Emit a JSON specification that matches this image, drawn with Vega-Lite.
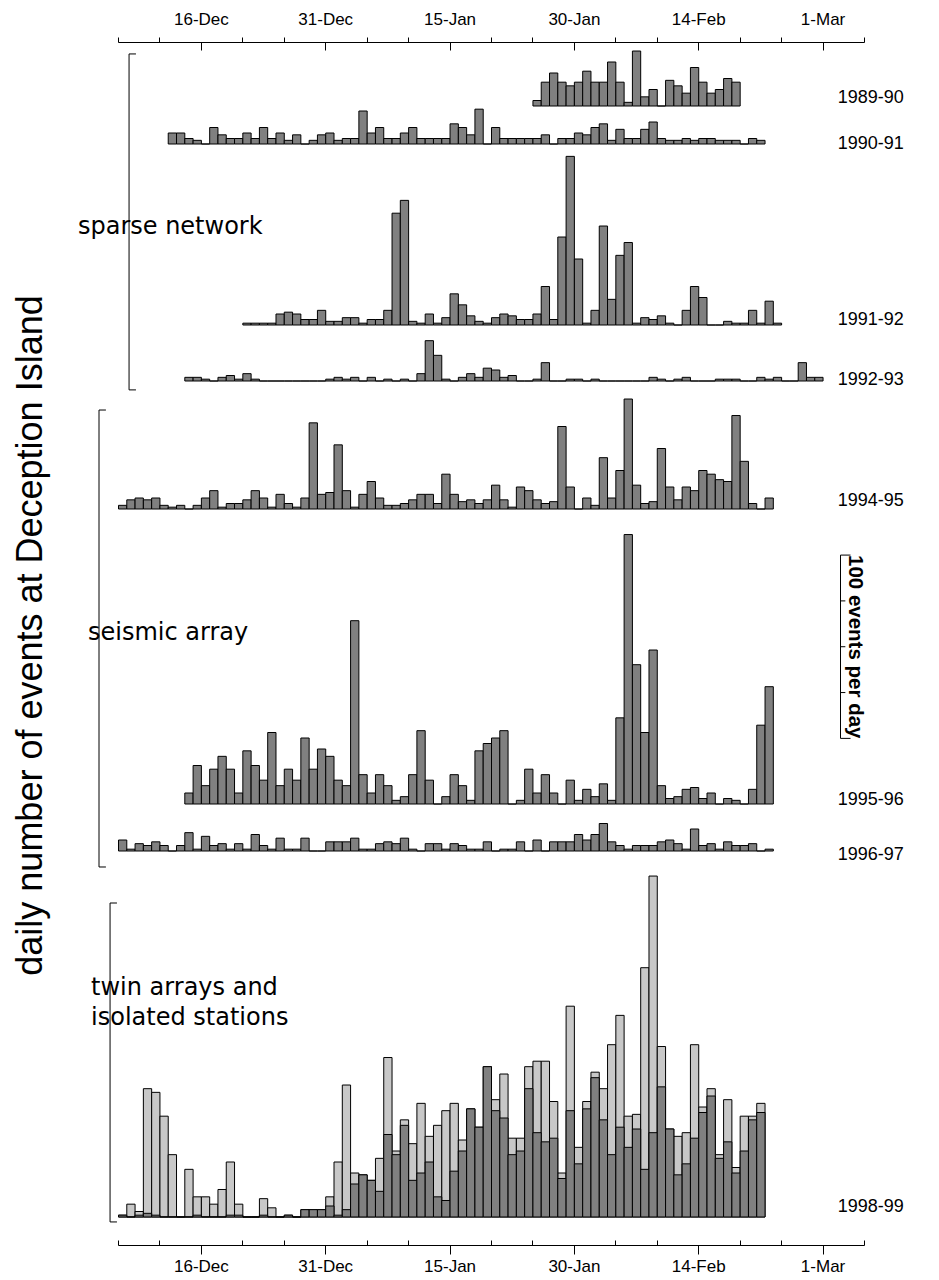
{
  "$schema": "https://vega.github.io/schema/vega-lite/v6.json",
  "padding": {"left": 12, "top": -3, "right": 5, "bottom": 5},
  "title": {"text": "daily number of events at Deception Island", "orient": "left", "anchor": "middle", "font": "Liberation Sans", "fontSize": 36, "fontWeight": "normal", "color": "black", "offset": 28},
  "config": {"view": {"stroke": null}, "font": "Liberation Sans", "bar": {"binSpacing": 0, "xOffset": 3.5, "stroke": "black", "strokeWidth": 1}},
  "datasets": {
    "s8990": [
      {"date":"2001-01-25","n":3},{"date":"2001-01-26","n":13},{"date":"2001-01-27","n":18},{"date":"2001-01-28","n":13},{"date":"2001-01-29","n":11},{"date":"2001-01-30","n":13},{"date":"2001-01-31","n":19},
      {"date":"2001-02-01","n":13},{"date":"2001-02-02","n":13},{"date":"2001-02-03","n":24},{"date":"2001-02-04","n":13},{"date":"2001-02-05","n":2},{"date":"2001-02-06","n":30},{"date":"2001-02-07","n":5},{"date":"2001-02-08","n":9},{"date":"2001-02-09","n":0},{"date":"2001-02-10","n":14},{"date":"2001-02-11","n":11},{"date":"2001-02-12","n":7},{"date":"2001-02-13","n":21},{"date":"2001-02-14","n":13},{"date":"2001-02-15","n":7},{"date":"2001-02-16","n":9},{"date":"2001-02-17","n":15},{"date":"2001-02-18","n":13}
    ],
    "s9091": [
      {"date":"2000-12-12","n":6},{"date":"2000-12-13","n":6},{"date":"2000-12-14","n":3},{"date":"2000-12-15","n":2},{"date":"2000-12-16","n":0},{"date":"2000-12-17","n":9},{"date":"2000-12-18","n":5},{"date":"2000-12-19","n":3},{"date":"2000-12-20","n":3},{"date":"2000-12-21","n":6},{"date":"2000-12-22","n":3},{"date":"2000-12-23","n":9},{"date":"2000-12-24","n":3},{"date":"2000-12-25","n":6},{"date":"2000-12-26","n":2},{"date":"2000-12-27","n":5},{"date":"2000-12-28","n":0},{"date":"2000-12-29","n":2},{"date":"2000-12-30","n":5},{"date":"2000-12-31","n":6},
      {"date":"2001-01-01","n":2},{"date":"2001-01-02","n":3},{"date":"2001-01-03","n":3},{"date":"2001-01-04","n":18},{"date":"2001-01-05","n":6},{"date":"2001-01-06","n":9},{"date":"2001-01-07","n":3},{"date":"2001-01-08","n":3},{"date":"2001-01-09","n":6},{"date":"2001-01-10","n":9},{"date":"2001-01-11","n":3},{"date":"2001-01-12","n":3},{"date":"2001-01-13","n":3},{"date":"2001-01-14","n":3},{"date":"2001-01-15","n":11},{"date":"2001-01-16","n":9},{"date":"2001-01-17","n":5},{"date":"2001-01-18","n":19},{"date":"2001-01-19","n":0},{"date":"2001-01-20","n":9},{"date":"2001-01-21","n":3},{"date":"2001-01-22","n":3},{"date":"2001-01-23","n":3},{"date":"2001-01-24","n":3},{"date":"2001-01-25","n":3},{"date":"2001-01-26","n":5},{"date":"2001-01-27","n":0},{"date":"2001-01-28","n":3},{"date":"2001-01-29","n":3},{"date":"2001-01-30","n":6},{"date":"2001-01-31","n":5},
      {"date":"2001-02-01","n":9},{"date":"2001-02-02","n":11},{"date":"2001-02-03","n":2},{"date":"2001-02-04","n":8},{"date":"2001-02-05","n":3},{"date":"2001-02-06","n":3},{"date":"2001-02-07","n":8},{"date":"2001-02-08","n":12},{"date":"2001-02-09","n":3},{"date":"2001-02-10","n":2},{"date":"2001-02-11","n":2},{"date":"2001-02-12","n":3},{"date":"2001-02-13","n":2},{"date":"2001-02-14","n":3},{"date":"2001-02-15","n":3},{"date":"2001-02-16","n":2},{"date":"2001-02-17","n":2},{"date":"2001-02-18","n":2},{"date":"2001-02-19","n":0},{"date":"2001-02-20","n":3},{"date":"2001-02-21","n":2}
    ],
    "s9192": [
      {"date":"2000-12-21","n":1},{"date":"2000-12-22","n":1},{"date":"2000-12-23","n":1},{"date":"2000-12-24","n":1},{"date":"2000-12-25","n":6},{"date":"2000-12-26","n":7},{"date":"2000-12-27","n":6},{"date":"2000-12-28","n":3},{"date":"2000-12-29","n":3},{"date":"2000-12-30","n":8},{"date":"2000-12-31","n":2},
      {"date":"2001-01-01","n":2},{"date":"2001-01-02","n":4},{"date":"2001-01-03","n":4},{"date":"2001-01-04","n":1},{"date":"2001-01-05","n":3},{"date":"2001-01-06","n":3},{"date":"2001-01-07","n":8},{"date":"2001-01-08","n":61},{"date":"2001-01-09","n":68},{"date":"2001-01-10","n":2},{"date":"2001-01-11","n":1},{"date":"2001-01-12","n":6},{"date":"2001-01-13","n":1},{"date":"2001-01-14","n":4},{"date":"2001-01-15","n":17},{"date":"2001-01-16","n":11},{"date":"2001-01-17","n":5},{"date":"2001-01-18","n":2},{"date":"2001-01-19","n":1},{"date":"2001-01-20","n":4},{"date":"2001-01-21","n":6},{"date":"2001-01-22","n":5},{"date":"2001-01-23","n":3},{"date":"2001-01-24","n":3},{"date":"2001-01-25","n":6},{"date":"2001-01-26","n":21},{"date":"2001-01-27","n":3},{"date":"2001-01-28","n":48},{"date":"2001-01-29","n":92},{"date":"2001-01-30","n":36},{"date":"2001-01-31","n":1},
      {"date":"2001-02-01","n":8},{"date":"2001-02-02","n":54},{"date":"2001-02-03","n":14},{"date":"2001-02-04","n":38},{"date":"2001-02-05","n":45},{"date":"2001-02-06","n":1},{"date":"2001-02-07","n":4},{"date":"2001-02-08","n":3},{"date":"2001-02-09","n":5},{"date":"2001-02-10","n":1},{"date":"2001-02-11","n":0},{"date":"2001-02-12","n":8},{"date":"2001-02-13","n":21},{"date":"2001-02-14","n":15},{"date":"2001-02-15","n":0},{"date":"2001-02-16","n":0},{"date":"2001-02-17","n":2},{"date":"2001-02-18","n":1},{"date":"2001-02-19","n":1},{"date":"2001-02-20","n":8},{"date":"2001-02-21","n":1},{"date":"2001-02-22","n":13},{"date":"2001-02-23","n":1}
    ],
    "s9293": [
      {"date":"2000-12-14","n":2},{"date":"2000-12-15","n":2},{"date":"2000-12-16","n":1},{"date":"2000-12-17","n":0},{"date":"2000-12-18","n":2},{"date":"2000-12-19","n":3},{"date":"2000-12-20","n":1},{"date":"2000-12-21","n":4},{"date":"2000-12-22","n":1},{"date":"2000-12-23","n":0},{"date":"2000-12-24","n":0},{"date":"2000-12-25","n":0},{"date":"2000-12-26","n":0},{"date":"2000-12-27","n":0},{"date":"2000-12-28","n":0},{"date":"2000-12-29","n":0},{"date":"2000-12-30","n":0},{"date":"2000-12-31","n":1},
      {"date":"2001-01-01","n":2},{"date":"2001-01-02","n":1},{"date":"2001-01-03","n":2},{"date":"2001-01-04","n":0},{"date":"2001-01-05","n":2},{"date":"2001-01-06","n":0},{"date":"2001-01-07","n":1},{"date":"2001-01-08","n":0},{"date":"2001-01-09","n":1},{"date":"2001-01-10","n":0},{"date":"2001-01-11","n":4},{"date":"2001-01-12","n":22},{"date":"2001-01-13","n":14},{"date":"2001-01-14","n":1},{"date":"2001-01-15","n":0},{"date":"2001-01-16","n":2},{"date":"2001-01-17","n":4},{"date":"2001-01-18","n":2},{"date":"2001-01-19","n":7},{"date":"2001-01-20","n":6},{"date":"2001-01-21","n":2},{"date":"2001-01-22","n":3},{"date":"2001-01-23","n":0},{"date":"2001-01-24","n":0},{"date":"2001-01-25","n":1},{"date":"2001-01-26","n":10},{"date":"2001-01-27","n":0},{"date":"2001-01-28","n":0},{"date":"2001-01-29","n":1},{"date":"2001-01-30","n":1},{"date":"2001-01-31","n":0},
      {"date":"2001-02-01","n":1},{"date":"2001-02-02","n":0},{"date":"2001-02-03","n":0},{"date":"2001-02-04","n":0},{"date":"2001-02-05","n":0},{"date":"2001-02-06","n":0},{"date":"2001-02-07","n":0},{"date":"2001-02-08","n":2},{"date":"2001-02-09","n":1},{"date":"2001-02-10","n":0},{"date":"2001-02-11","n":1},{"date":"2001-02-12","n":2},{"date":"2001-02-13","n":0},{"date":"2001-02-14","n":0},{"date":"2001-02-15","n":0},{"date":"2001-02-16","n":1},{"date":"2001-02-17","n":1},{"date":"2001-02-18","n":1},{"date":"2001-02-19","n":0},{"date":"2001-02-20","n":0},{"date":"2001-02-21","n":2},{"date":"2001-02-22","n":1},{"date":"2001-02-23","n":2},{"date":"2001-02-24","n":0},{"date":"2001-02-25","n":0},{"date":"2001-02-26","n":10},{"date":"2001-02-27","n":2},{"date":"2001-02-28","n":2}
    ],
    "s9495": [
      {"date":"2000-12-06","n":2},{"date":"2000-12-07","n":5},{"date":"2000-12-08","n":6},{"date":"2000-12-09","n":5},{"date":"2000-12-10","n":6},{"date":"2000-12-11","n":2},{"date":"2000-12-12","n":1},{"date":"2000-12-13","n":2},{"date":"2000-12-14","n":0},{"date":"2000-12-15","n":2},{"date":"2000-12-16","n":6},{"date":"2000-12-17","n":10},{"date":"2000-12-18","n":1},{"date":"2000-12-19","n":3},{"date":"2000-12-20","n":3},{"date":"2000-12-21","n":5},{"date":"2000-12-22","n":10},{"date":"2000-12-23","n":6},{"date":"2000-12-24","n":1},{"date":"2000-12-25","n":8},{"date":"2000-12-26","n":3},{"date":"2000-12-27","n":1},{"date":"2000-12-28","n":6},{"date":"2000-12-29","n":47},{"date":"2000-12-30","n":8},{"date":"2000-12-31","n":9},
      {"date":"2001-01-01","n":35},{"date":"2001-01-02","n":10},{"date":"2001-01-03","n":1},{"date":"2001-01-04","n":8},{"date":"2001-01-05","n":15},{"date":"2001-01-06","n":6},{"date":"2001-01-07","n":2},{"date":"2001-01-08","n":2},{"date":"2001-01-09","n":3},{"date":"2001-01-10","n":5},{"date":"2001-01-11","n":8},{"date":"2001-01-12","n":8},{"date":"2001-01-13","n":3},{"date":"2001-01-14","n":19},{"date":"2001-01-15","n":8},{"date":"2001-01-16","n":4},{"date":"2001-01-17","n":5},{"date":"2001-01-18","n":3},{"date":"2001-01-19","n":5},{"date":"2001-01-20","n":13},{"date":"2001-01-21","n":5},{"date":"2001-01-22","n":1},{"date":"2001-01-23","n":12},{"date":"2001-01-24","n":10},{"date":"2001-01-25","n":5},{"date":"2001-01-26","n":3},{"date":"2001-01-27","n":4},{"date":"2001-01-28","n":45},{"date":"2001-01-29","n":12},{"date":"2001-01-30","n":0},{"date":"2001-01-31","n":6},
      {"date":"2001-02-01","n":2},{"date":"2001-02-02","n":28},{"date":"2001-02-03","n":6},{"date":"2001-02-04","n":21},{"date":"2001-02-05","n":60},{"date":"2001-02-06","n":13},{"date":"2001-02-07","n":3},{"date":"2001-02-08","n":4},{"date":"2001-02-09","n":33},{"date":"2001-02-10","n":12},{"date":"2001-02-11","n":5},{"date":"2001-02-12","n":12},{"date":"2001-02-13","n":10},{"date":"2001-02-14","n":21},{"date":"2001-02-15","n":19},{"date":"2001-02-16","n":16},{"date":"2001-02-17","n":15},{"date":"2001-02-18","n":51},{"date":"2001-02-19","n":26},{"date":"2001-02-20","n":3},{"date":"2001-02-21","n":0},{"date":"2001-02-22","n":6}
    ],
    "s9596": [
      {"date":"2000-12-14","n":6},{"date":"2000-12-15","n":21},{"date":"2000-12-16","n":10},{"date":"2000-12-17","n":19},{"date":"2000-12-18","n":26},{"date":"2000-12-19","n":19},{"date":"2000-12-20","n":6},{"date":"2000-12-21","n":29},{"date":"2000-12-22","n":21},{"date":"2000-12-23","n":13},{"date":"2000-12-24","n":39},{"date":"2000-12-25","n":10},{"date":"2000-12-26","n":19},{"date":"2000-12-27","n":13},{"date":"2000-12-28","n":36},{"date":"2000-12-29","n":19},{"date":"2000-12-30","n":30},{"date":"2000-12-31","n":26},
      {"date":"2001-01-01","n":13},{"date":"2001-01-02","n":10},{"date":"2001-01-03","n":100},{"date":"2001-01-04","n":16},{"date":"2001-01-05","n":6},{"date":"2001-01-06","n":16},{"date":"2001-01-07","n":10},{"date":"2001-01-08","n":2},{"date":"2001-01-09","n":4},{"date":"2001-01-10","n":16},{"date":"2001-01-11","n":40},{"date":"2001-01-12","n":13},{"date":"2001-01-13","n":0},{"date":"2001-01-14","n":4},{"date":"2001-01-15","n":16},{"date":"2001-01-16","n":10},{"date":"2001-01-17","n":2},{"date":"2001-01-18","n":29},{"date":"2001-01-19","n":33},{"date":"2001-01-20","n":36},{"date":"2001-01-21","n":40},{"date":"2001-01-22","n":0},{"date":"2001-01-23","n":2},{"date":"2001-01-24","n":19},{"date":"2001-01-25","n":6},{"date":"2001-01-26","n":16},{"date":"2001-01-27","n":6},{"date":"2001-01-28","n":0},{"date":"2001-01-29","n":13},{"date":"2001-01-30","n":2},{"date":"2001-01-31","n":8},
      {"date":"2001-02-01","n":4},{"date":"2001-02-02","n":11},{"date":"2001-02-03","n":2},{"date":"2001-02-04","n":47},{"date":"2001-02-05","n":147},{"date":"2001-02-06","n":76},{"date":"2001-02-07","n":39},{"date":"2001-02-08","n":84},{"date":"2001-02-09","n":10},{"date":"2001-02-10","n":3},{"date":"2001-02-11","n":4},{"date":"2001-02-12","n":8},{"date":"2001-02-13","n":9},{"date":"2001-02-14","n":3},{"date":"2001-02-15","n":6},{"date":"2001-02-16","n":0},{"date":"2001-02-17","n":3},{"date":"2001-02-18","n":2},{"date":"2001-02-19","n":0},{"date":"2001-02-20","n":8},{"date":"2001-02-21","n":43},{"date":"2001-02-22","n":64}
    ],
    "s9697": [
      {"date":"2000-12-06","n":6},{"date":"2000-12-07","n":1},{"date":"2000-12-08","n":4},{"date":"2000-12-09","n":3},{"date":"2000-12-10","n":5},{"date":"2000-12-11","n":3},{"date":"2000-12-12","n":0},{"date":"2000-12-13","n":3},{"date":"2000-12-14","n":10},{"date":"2000-12-15","n":1},{"date":"2000-12-16","n":8},{"date":"2000-12-17","n":3},{"date":"2000-12-18","n":4},{"date":"2000-12-19","n":1},{"date":"2000-12-20","n":4},{"date":"2000-12-21","n":1},{"date":"2000-12-22","n":9},{"date":"2000-12-23","n":3},{"date":"2000-12-24","n":1},{"date":"2000-12-25","n":7},{"date":"2000-12-26","n":1},{"date":"2000-12-27","n":1},{"date":"2000-12-28","n":7},{"date":"2000-12-29","n":0},{"date":"2000-12-30","n":0},{"date":"2000-12-31","n":5},
      {"date":"2001-01-01","n":5},{"date":"2001-01-02","n":5},{"date":"2001-01-03","n":7},{"date":"2001-01-04","n":1},{"date":"2001-01-05","n":1},{"date":"2001-01-06","n":4},{"date":"2001-01-07","n":5},{"date":"2001-01-08","n":4},{"date":"2001-01-09","n":7},{"date":"2001-01-10","n":1},{"date":"2001-01-11","n":0},{"date":"2001-01-12","n":4},{"date":"2001-01-13","n":4},{"date":"2001-01-14","n":1},{"date":"2001-01-15","n":4},{"date":"2001-01-16","n":3},{"date":"2001-01-17","n":1},{"date":"2001-01-18","n":1},{"date":"2001-01-19","n":5},{"date":"2001-01-20","n":0},{"date":"2001-01-21","n":1},{"date":"2001-01-22","n":1},{"date":"2001-01-23","n":5},{"date":"2001-01-24","n":0},{"date":"2001-01-25","n":6},{"date":"2001-01-26","n":0},{"date":"2001-01-27","n":5},{"date":"2001-01-28","n":5},{"date":"2001-01-29","n":5},{"date":"2001-01-30","n":9},{"date":"2001-01-31","n":6},
      {"date":"2001-02-01","n":9},{"date":"2001-02-02","n":15},{"date":"2001-02-03","n":5},{"date":"2001-02-04","n":3},{"date":"2001-02-05","n":1},{"date":"2001-02-06","n":3},{"date":"2001-02-07","n":3},{"date":"2001-02-08","n":3},{"date":"2001-02-09","n":5},{"date":"2001-02-10","n":6},{"date":"2001-02-11","n":4},{"date":"2001-02-12","n":1},{"date":"2001-02-13","n":12},{"date":"2001-02-14","n":3},{"date":"2001-02-15","n":4},{"date":"2001-02-16","n":1},{"date":"2001-02-17","n":5},{"date":"2001-02-18","n":3},{"date":"2001-02-19","n":3},{"date":"2001-02-20","n":4},{"date":"2001-02-21","n":0},{"date":"2001-02-22","n":1}
    ],
    "s9899": [
      {"date":"2000-12-06","all":1,"array":1},{"date":"2000-12-07","all":7,"array":0},{"date":"2000-12-08","all":3,"array":1},{"date":"2000-12-09","all":70,"array":2},{"date":"2000-12-10","all":68,"array":1},{"date":"2000-12-11","all":55,"array":0},{"date":"2000-12-12","all":34,"array":0},{"date":"2000-12-13","all":0,"array":0},{"date":"2000-12-14","all":26,"array":0},{"date":"2000-12-15","all":11,"array":1},{"date":"2000-12-16","all":11,"array":0},{"date":"2000-12-17","all":7,"array":0},{"date":"2000-12-18","all":15,"array":0},{"date":"2000-12-19","all":30,"array":1},{"date":"2000-12-20","all":7,"array":1},{"date":"2000-12-21","all":0,"array":0},{"date":"2000-12-22","all":0,"array":0},{"date":"2000-12-23","all":10,"array":1},{"date":"2000-12-24","all":5,"array":0},{"date":"2000-12-25","all":0,"array":0},{"date":"2000-12-26","all":1,"array":1},{"date":"2000-12-27","all":0,"array":0},{"date":"2000-12-28","all":4,"array":4},{"date":"2000-12-29","all":4,"array":4},{"date":"2000-12-30","all":4,"array":4},{"date":"2000-12-31","all":11,"array":6},
      {"date":"2001-01-01","all":30,"array":1},{"date":"2001-01-02","all":72,"array":4},{"date":"2001-01-03","all":24,"array":18},{"date":"2001-01-04","all":23,"array":23},{"date":"2001-01-05","all":20,"array":20},{"date":"2001-01-06","all":32,"array":14},{"date":"2001-01-07","all":87,"array":45},{"date":"2001-01-08","all":36,"array":34},{"date":"2001-01-09","all":53,"array":50},{"date":"2001-01-10","all":40,"array":20},{"date":"2001-01-11","all":62,"array":24},{"date":"2001-01-12","all":44,"array":30},{"date":"2001-01-13","all":50,"array":11},{"date":"2001-01-14","all":58,"array":9},{"date":"2001-01-15","all":62,"array":25},{"date":"2001-01-16","all":42,"array":36},{"date":"2001-01-17","all":59,"array":59},{"date":"2001-01-18","all":49,"array":49},{"date":"2001-01-19","all":82,"array":82},{"date":"2001-01-20","all":64,"array":58},{"date":"2001-01-21","all":78,"array":54},{"date":"2001-01-22","all":43,"array":34},{"date":"2001-01-23","all":43,"array":36},{"date":"2001-01-24","all":82,"array":70},{"date":"2001-01-25","all":85,"array":46},{"date":"2001-01-26","all":85,"array":41},{"date":"2001-01-27","all":63,"array":43},{"date":"2001-01-28","all":24,"array":21},{"date":"2001-01-29","all":115,"array":58},{"date":"2001-01-30","all":38,"array":29},{"date":"2001-01-31","all":63,"array":59},
      {"date":"2001-02-01","all":79,"array":76},{"date":"2001-02-02","all":70,"array":53},{"date":"2001-02-03","all":94,"array":34},{"date":"2001-02-04","all":110,"array":49},{"date":"2001-02-05","all":55,"array":38},{"date":"2001-02-06","all":56,"array":48},{"date":"2001-02-07","all":136,"array":26},{"date":"2001-02-08","all":186,"array":46},{"date":"2001-02-09","all":93,"array":71},{"date":"2001-02-10","all":48,"array":48},{"date":"2001-02-11","all":44,"array":23},{"date":"2001-02-12","all":46,"array":29},{"date":"2001-02-13","all":94,"array":43},{"date":"2001-02-14","all":60,"array":57},{"date":"2001-02-15","all":70,"array":66},{"date":"2001-02-16","all":34,"array":32},{"date":"2001-02-17","all":64,"array":41},{"date":"2001-02-18","all":27,"array":24},{"date":"2001-02-19","all":55,"array":36},{"date":"2001-02-20","all":55,"array":53},{"date":"2001-02-21","all":62,"array":57}
    ]
  },
  "vconcat": [
    {
      "width": 746, "height": 64,
      "layer": [
        {
          "data": {"name": "s8990"},
          "mark": {"type": "bar", "fill": "#808080"},
          "encoding": {
            "x": {"field": "date", "type": "temporal", "timeUnit": "utcyearmonthdate", "title": null,
              "scale": {"type": "utc", "domain": [{"year": 2000, "month": 12, "date": 6, "utc": true}, {"year": 2001, "month": 3, "date": 6, "utc": true}]},
              "axis": {"orient": "top", "format": "%-d-%b", "grid": false,
                "values": [
                  {"year": 2000, "month": 12, "date": 6, "utc": true}, {"year": 2000, "month": 12, "date": 11, "utc": true}, {"year": 2000, "month": 12, "date": 16, "utc": true}, {"year": 2000, "month": 12, "date": 21, "utc": true}, {"year": 2000, "month": 12, "date": 26, "utc": true}, {"year": 2000, "month": 12, "date": 31, "utc": true},
                  {"year": 2001, "month": 1, "date": 5, "utc": true}, {"year": 2001, "month": 1, "date": 10, "utc": true}, {"year": 2001, "month": 1, "date": 15, "utc": true}, {"year": 2001, "month": 1, "date": 20, "utc": true}, {"year": 2001, "month": 1, "date": 25, "utc": true}, {"year": 2001, "month": 1, "date": 30, "utc": true},
                  {"year": 2001, "month": 2, "date": 4, "utc": true}, {"year": 2001, "month": 2, "date": 9, "utc": true}, {"year": 2001, "month": 2, "date": 14, "utc": true}, {"year": 2001, "month": 2, "date": 19, "utc": true}, {"year": 2001, "month": 2, "date": 24, "utc": true},
                  {"year": 2001, "month": 3, "date": 1, "utc": true}, {"year": 2001, "month": 3, "date": 6, "utc": true}
                ],
                "labelExpr": "(datum.value - utc(2000, 11, 16)) % 1296000000 == 0 ? datum.label : ''",
                "tickSize": {"condition": {"test": "(datum.value - utc(2000, 11, 16)) % 1296000000 == 0", "value": -8}, "value": 5},
                "domainColor": "black", "tickColor": "black", "labelColor": "black", "labelFont": "Liberation Sans", "labelFontSize": 17,
                "labelPadding": 22, "labelFlush": false, "labelOverlap": false}},
            "y": {"field": "n", "type": "quantitative", "scale": {"domain": [0, 34.92], "nice": false}, "axis": null}
          }
        },
        {
          "data": {"values": [{"label": "1989-90"}]},
          "mark": {"type": "text", "align": "left", "baseline": "middle", "font": "Liberation Sans", "fontSize": 18, "color": "black"},
          "encoding": {"x": {"datum": {"year": 2001, "month": 3, "date": 2, "hours": 20, "utc": true}, "type": "temporal"}, "y": {"datum": 4.4, "type": "quantitative"}, "text": {"field": "label"}}
        },
        {
          "data": {"values": [{}]},
          "mark": {"type": "rule", "color": "black", "strokeWidth": 1},
          "encoding": {"x": {"datum": {"year": 2000, "month": 12, "date": 7, "hours": 8, "utc": true}, "type": "temporal"}, "y": {"datum": 28.4, "type": "quantitative"}, "y2": {"datum": -154.9}}
        },
        {
          "data": {"values": [{"v": 28.4}, {"v": -154.9}]},
          "mark": {"type": "rule", "color": "black", "strokeWidth": 1},
          "encoding": {"x": {"datum": {"year": 2000, "month": 12, "date": 7, "hours": 8, "utc": true}, "type": "temporal"}, "x2": {"datum": {"year": 2000, "month": 12, "date": 8, "hours": 4, "utc": true}}, "y": {"field": "v", "type": "quantitative"}}
        }
      ]
    },
    {
      "width": 746, "height": 38,
      "layer": [
        {
          "data": {"name": "s9091"},
          "mark": {"type": "bar", "fill": "#808080"},
          "encoding": {
            "x": {"field": "date", "type": "temporal", "timeUnit": "utcyearmonthdate", "title": null, "axis": null,
              "scale": {"type": "utc", "domain": [{"year": 2000, "month": 12, "date": 6, "utc": true}, {"year": 2001, "month": 3, "date": 6, "utc": true}]}},
            "y": {"field": "n", "type": "quantitative", "scale": {"domain": [0, 20.73], "nice": false}, "axis": null}
          }
        },
        {
          "data": {"values": [{"label": "1990-91"}]},
          "mark": {"type": "text", "align": "left", "baseline": "middle", "font": "Liberation Sans", "fontSize": 18, "color": "black"},
          "encoding": {"x": {"datum": {"year": 2001, "month": 3, "date": 2, "hours": 20, "utc": true}, "type": "temporal"}, "y": {"datum": 0, "type": "quantitative"}, "text": {"field": "label"}}
        }
      ]
    },
    {
      "width": 746, "height": 181,
      "layer": [
        {
          "data": {"name": "s9192"},
          "mark": {"type": "bar", "fill": "#808080"},
          "encoding": {
            "x": {"field": "date", "type": "temporal", "timeUnit": "utcyearmonthdate", "title": null, "axis": null,
              "scale": {"type": "utc", "domain": [{"year": 2000, "month": 12, "date": 6, "utc": true}, {"year": 2001, "month": 3, "date": 6, "utc": true}]}},
            "y": {"field": "n", "type": "quantitative", "scale": {"domain": [0, 98.75], "nice": false}, "axis": null}
          }
        },
        {
          "data": {"values": [{"label": "1991-92"}]},
          "mark": {"type": "text", "align": "left", "baseline": "middle", "font": "Liberation Sans", "fontSize": 18, "color": "black"},
          "encoding": {"x": {"datum": {"year": 2001, "month": 3, "date": 2, "hours": 20, "utc": true}, "type": "temporal"}, "y": {"datum": 2.7, "type": "quantitative"}, "text": {"field": "label"}}
        },
        {
          "data": {"values": [{"label": "sparse network"}]},
          "mark": {"type": "text", "align": "left", "baseline": "middle", "font": "DejaVu Sans", "fontSize": 24, "color": "black"},
          "encoding": {"x": {"datum": {"year": 2000, "month": 12, "date": 1, "hours": 4, "utc": true}, "type": "temporal"}, "y": {"datum": 53.5, "type": "quantitative"}, "text": {"field": "label"}}
        }
      ]
    },
    {
      "width": 746, "height": 56,
      "layer": [
        {
          "data": {"name": "s9293"},
          "mark": {"type": "bar", "fill": "#808080"},
          "encoding": {
            "x": {"field": "date", "type": "temporal", "timeUnit": "utcyearmonthdate", "title": null, "axis": null,
              "scale": {"type": "utc", "domain": [{"year": 2000, "month": 12, "date": 6, "utc": true}, {"year": 2001, "month": 3, "date": 6, "utc": true}]}},
            "y": {"field": "n", "type": "quantitative", "scale": {"domain": [0, 30.55], "nice": false}, "axis": null}
          }
        },
        {
          "data": {"values": [{"label": "1992-93"}]},
          "mark": {"type": "text", "align": "left", "baseline": "middle", "font": "Liberation Sans", "fontSize": 18, "color": "black"},
          "encoding": {"x": {"datum": {"year": 2001, "month": 3, "date": 2, "hours": 20, "utc": true}, "type": "temporal"}, "y": {"datum": 0.5, "type": "quantitative"}, "text": {"field": "label"}}
        }
      ]
    },
    {
      "width": 746, "height": 128,
      "layer": [
        {
          "data": {"name": "s9495"},
          "mark": {"type": "bar", "fill": "#808080"},
          "encoding": {
            "x": {"field": "date", "type": "temporal", "timeUnit": "utcyearmonthdate", "title": null, "axis": null,
              "scale": {"type": "utc", "domain": [{"year": 2000, "month": 12, "date": 6, "utc": true}, {"year": 2001, "month": 3, "date": 6, "utc": true}]}},
            "y": {"field": "n", "type": "quantitative", "scale": {"domain": [0, 69.83], "nice": false}, "axis": null}
          }
        },
        {
          "data": {"values": [{"label": "1994-95"}]},
          "mark": {"type": "text", "align": "left", "baseline": "middle", "font": "Liberation Sans", "fontSize": 18, "color": "black"},
          "encoding": {"x": {"datum": {"year": 2001, "month": 3, "date": 2, "hours": 20, "utc": true}, "type": "temporal"}, "y": {"datum": 4.4, "type": "quantitative"}, "text": {"field": "label"}}
        },
        {
          "data": {"values": [{}]},
          "mark": {"type": "rule", "color": "black", "strokeWidth": 1},
          "encoding": {"x": {"datum": {"year": 2000, "month": 12, "date": 3, "hours": 17, "utc": true}, "type": "temporal"}, "y": {"datum": 54.0, "type": "quantitative"}, "y2": {"datum": -195.3}}
        },
        {
          "data": {"values": [{"v": 54.0}, {"v": -195.3}]},
          "mark": {"type": "rule", "color": "black", "strokeWidth": 1},
          "encoding": {"x": {"datum": {"year": 2000, "month": 12, "date": 3, "hours": 17, "utc": true}, "type": "temporal"}, "x2": {"datum": {"year": 2000, "month": 12, "date": 4, "hours": 13, "utc": true}}, "y": {"field": "v", "type": "quantitative"}}
        }
      ]
    },
    {
      "width": 746, "height": 295,
      "layer": [
        {
          "data": {"name": "s9596"},
          "mark": {"type": "bar", "fill": "#808080"},
          "encoding": {
            "x": {"field": "date", "type": "temporal", "timeUnit": "utcyearmonthdate", "title": null, "axis": null,
              "scale": {"type": "utc", "domain": [{"year": 2000, "month": 12, "date": 6, "utc": true}, {"year": 2001, "month": 3, "date": 6, "utc": true}]}},
            "y": {"field": "n", "type": "quantitative", "scale": {"domain": [0, 160.94], "nice": false}, "axis": null}
          }
        },
        {
          "data": {"values": [{"label": "1995-96"}]},
          "mark": {"type": "text", "align": "left", "baseline": "middle", "font": "Liberation Sans", "fontSize": 18, "color": "black"},
          "encoding": {"x": {"datum": {"year": 2001, "month": 3, "date": 2, "hours": 20, "utc": true}, "type": "temporal"}, "y": {"datum": 2.3, "type": "quantitative"}, "text": {"field": "label"}}
        },
        {
          "data": {"values": [{"label": "seismic array"}]},
          "mark": {"type": "text", "align": "left", "baseline": "middle", "font": "DejaVu Sans", "fontSize": 24, "color": "black"},
          "encoding": {"x": {"datum": {"year": 2000, "month": 12, "date": 2, "hours": 9, "utc": true}, "type": "temporal"}, "y": {"datum": 93.3, "type": "quantitative"}, "text": {"field": "label"}}
        },
        {
          "data": {"values": [{}]},
          "mark": {"type": "rule", "color": "black", "strokeWidth": 1},
          "encoding": {"x": {"datum": {"year": 2001, "month": 3, "date": 3, "hours": 4, "utc": true}, "type": "temporal"}, "y": {"datum": 35.8, "type": "quantitative"}, "y2": {"datum": 135.8}}
        },
        {
          "data": {"values": [{"v": 35.8}, {"v": 135.8}]},
          "mark": {"type": "rule", "color": "black", "strokeWidth": 1},
          "encoding": {"x": {"datum": {"year": 2001, "month": 3, "date": 3, "hours": 4, "utc": true}, "type": "temporal"}, "x2": {"datum": {"year": 2001, "month": 3, "date": 4, "hours": 9, "utc": true}}, "y": {"field": "v", "type": "quantitative"}}
        },
        {
          "data": {"values": [{"v": 60.8}, {"v": 85.8}, {"v": 110.8}]},
          "mark": {"type": "rule", "color": "black", "strokeWidth": 1},
          "encoding": {"x": {"datum": {"year": 2001, "month": 3, "date": 3, "hours": 4, "utc": true}, "type": "temporal"}, "x2": {"datum": {"year": 2001, "month": 3, "date": 3, "hours": 18, "utc": true}}, "y": {"field": "v", "type": "quantitative"}}
        },
        {
          "data": {"values": [{"label": "100 events per day"}]},
          "mark": {"type": "text", "align": "center", "baseline": "middle", "angle": 90, "font": "Liberation Sans", "fontWeight": "bold", "fontSize": 20.5, "color": "black"},
          "encoding": {"x": {"datum": {"year": 2001, "month": 3, "date": 4, "hours": 22, "utc": true}, "type": "temporal"}, "y": {"datum": 85.8, "type": "quantitative"}, "text": {"field": "label"}}
        }
      ]
    },
    {
      "width": 746, "height": 47,
      "layer": [
        {
          "data": {"name": "s9697"},
          "mark": {"type": "bar", "fill": "#808080"},
          "encoding": {
            "x": {"field": "date", "type": "temporal", "timeUnit": "utcyearmonthdate", "title": null, "axis": null,
              "scale": {"type": "utc", "domain": [{"year": 2000, "month": 12, "date": 6, "utc": true}, {"year": 2001, "month": 3, "date": 6, "utc": true}]}},
            "y": {"field": "n", "type": "quantitative", "scale": {"domain": [0, 25.64], "nice": false}, "axis": null}
          }
        },
        {
          "data": {"values": [{"label": "1996-97"}]},
          "mark": {"type": "text", "align": "left", "baseline": "middle", "font": "Liberation Sans", "fontSize": 18, "color": "black"},
          "encoding": {"x": {"datum": {"year": 2001, "month": 3, "date": 2, "hours": 20, "utc": true}, "type": "temporal"}, "y": {"datum": -2.2, "type": "quantitative"}, "text": {"field": "label"}}
        }
      ]
    },
    {
      "width": 746, "height": 394,
      "layer": [
        {
          "data": {"name": "s9899"},
          "mark": {"type": "bar", "fill": "#c8c8c8"},
          "encoding": {
            "x": {"field": "date", "type": "temporal", "timeUnit": "utcyearmonthdate", "title": null,
              "scale": {"type": "utc", "domain": [{"year": 2000, "month": 12, "date": 6, "utc": true}, {"year": 2001, "month": 3, "date": 6, "utc": true}]},
              "axis": {"orient": "bottom", "format": "%-d-%b", "grid": false,
                "values": [
                  {"year": 2000, "month": 12, "date": 6, "utc": true}, {"year": 2000, "month": 12, "date": 11, "utc": true}, {"year": 2000, "month": 12, "date": 16, "utc": true}, {"year": 2000, "month": 12, "date": 21, "utc": true}, {"year": 2000, "month": 12, "date": 26, "utc": true}, {"year": 2000, "month": 12, "date": 31, "utc": true},
                  {"year": 2001, "month": 1, "date": 5, "utc": true}, {"year": 2001, "month": 1, "date": 10, "utc": true}, {"year": 2001, "month": 1, "date": 15, "utc": true}, {"year": 2001, "month": 1, "date": 20, "utc": true}, {"year": 2001, "month": 1, "date": 25, "utc": true}, {"year": 2001, "month": 1, "date": 30, "utc": true},
                  {"year": 2001, "month": 2, "date": 4, "utc": true}, {"year": 2001, "month": 2, "date": 9, "utc": true}, {"year": 2001, "month": 2, "date": 14, "utc": true}, {"year": 2001, "month": 2, "date": 19, "utc": true}, {"year": 2001, "month": 2, "date": 24, "utc": true},
                  {"year": 2001, "month": 3, "date": 1, "utc": true}, {"year": 2001, "month": 3, "date": 6, "utc": true}
                ],
                "labelExpr": "(datum.value - utc(2000, 11, 16)) % 1296000000 == 0 ? datum.label : ''",
                "tickSize": {"condition": {"test": "(datum.value - utc(2000, 11, 16)) % 1296000000 == 0", "value": 9}, "value": -5},
                "domainColor": "black", "tickColor": "black", "labelColor": "black", "labelFont": "Liberation Sans", "labelFontSize": 17,
                "labelPadding": 4, "labelFlush": false, "labelOverlap": false}},
            "y": {"field": "all", "type": "quantitative", "scale": {"domain": [-15.28, 199.67], "nice": false, "zero": false}, "axis": null},
            "y2": {"datum": 0}
          }
        },
        {
          "data": {"name": "s9899"},
          "mark": {"type": "bar", "fill": "#808080"},
          "encoding": {
            "x": {"field": "date", "type": "temporal", "timeUnit": "utcyearmonthdate"},
            "y": {"field": "array", "type": "quantitative"},
            "y2": {"datum": 0}
          }
        },
        {
          "data": {"values": [{"label": "1998-99"}]},
          "mark": {"type": "text", "align": "left", "baseline": "middle", "font": "Liberation Sans", "fontSize": 18, "color": "black"},
          "encoding": {"x": {"datum": {"year": 2001, "month": 3, "date": 2, "hours": 20, "utc": true}, "type": "temporal"}, "y": {"datum": 5.5, "type": "quantitative"}, "text": {"field": "label"}}
        },
        {
          "data": {"values": [{"label": ["twin arrays and", "isolated stations"]}]},
          "mark": {"type": "text", "align": "left", "baseline": "middle", "font": "DejaVu Sans", "fontSize": 24, "lineHeight": 30, "color": "black"},
          "encoding": {"x": {"datum": {"year": 2000, "month": 12, "date": 2, "hours": 18, "utc": true}, "type": "temporal"}, "y": {"datum": 125, "type": "quantitative"}, "text": {"field": "label"}}
        },
        {
          "data": {"values": [{}]},
          "mark": {"type": "rule", "color": "black", "strokeWidth": 1},
          "encoding": {"x": {"datum": {"year": 2000, "month": 12, "date": 5, "hours": 1, "utc": true}, "type": "temporal"}, "y": {"datum": 171.3, "type": "quantitative"}, "y2": {"datum": -2.7}}
        },
        {
          "data": {"values": [{"v": 171.3}, {"v": -2.7}]},
          "mark": {"type": "rule", "color": "black", "strokeWidth": 1},
          "encoding": {"x": {"datum": {"year": 2000, "month": 12, "date": 5, "hours": 1, "utc": true}, "type": "temporal"}, "x2": {"datum": {"year": 2000, "month": 12, "date": 5, "hours": 21, "utc": true}}, "y": {"field": "v", "type": "quantitative"}}
        }
      ]
    }
  ],
  "spacing": 0,
  "bounds": "flush"
}
